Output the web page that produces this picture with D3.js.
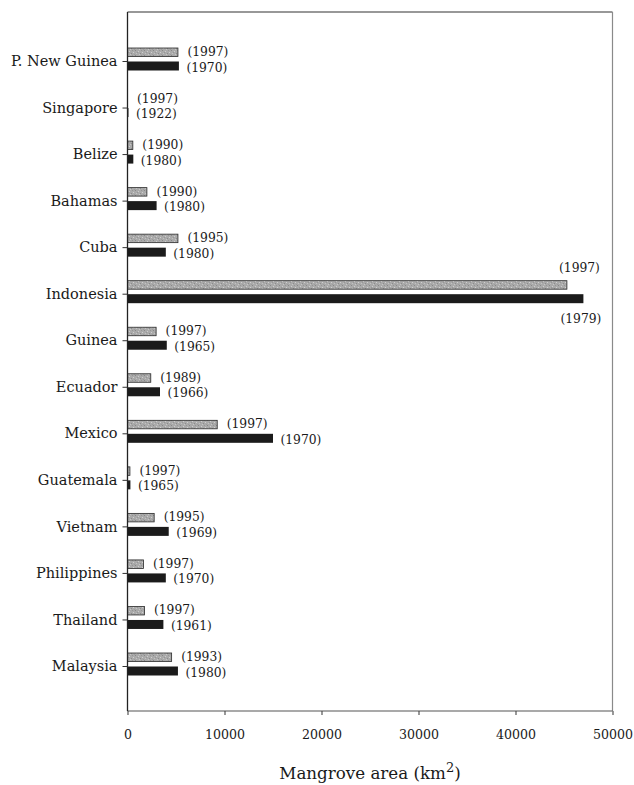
<!DOCTYPE html>
<html>
<head>
<meta charset="utf-8">
<script src="https://cdn.jsdelivr.net/npm/d3@7/dist/d3.min.js"></script>
<style>
  html, body { margin: 0; padding: 0; background: #fff; }
  svg { display: block; font-family: "DejaVu Serif", serif; }
</style>
</head>
<body>
<svg id="chart" width="634" height="785"></svg>
<script>
// Mangrove area by country: most recent estimate vs. an earlier estimate (km²)
const categories = ["P. New Guinea", "Singapore", "Belize", "Bahamas", "Cuba", "Indonesia", "Guinea",
                    "Ecuador", "Mexico", "Guatemala", "Vietnam", "Philippines", "Thailand", "Malaysia"];
const recentArea  = [5200, 6, 550, 2000, 5200, 45300, 2950, 2400, 9250, 250, 2750, 1650, 1750, 4550];
const recentYear  = ["1997", "1997", "1990", "1990", "1995", "1997", "1997", "1989", "1997", "1997", "1995", "1997", "1997", "1993"];
const earlierArea = [5300, 100, 600, 3000, 3950, 47000, 4050, 3350, 15000, 300, 4250, 3950, 3700, 5200];
const earlierYear = ["1970", "1922", "1980", "1980", "1980", "1979", "1965", "1966", "1970", "1965", "1969", "1970", "1961", "1980"];
const xTicks = [0, 10000, 20000, 30000, 40000, 50000];
const xTitle = "Mangrove area (km";

const rows = categories.map((c, i) => ({
  country: c,
  recent: recentArea[i], recentYear: recentYear[i],
  earlier: earlierArea[i], earlierYear: earlierYear[i]
}));

const svg = d3.select("#chart");
const plot = { left: 127.5, right: 612.5, top: 12, bottom: 711 };

const x = d3.scaleLinear().domain([0, 50000]).range([plot.left, plot.right]);
const y = d3.scalePoint().domain(categories).range([61, 666]);

// speckled grey fill for the recent-estimate bars
const defs = svg.append("defs");
const pat = defs.append("pattern").attr("id", "speckle")
  .attr("patternUnits", "userSpaceOnUse").attr("width", 9).attr("height", 5);
pat.append("rect").attr("width", 9).attr("height", 5).attr("fill", "#aaaaaa");
[[0,0,"#888"],[3,1,"#cdcdcd"],[6,0,"#959595"],[1,3,"#c2c2c2"],[5,3,"#8b8b8b"],[7,2,"#d0d0d0"],[2,2,"#979797"],[8,4,"#9c9c9c"],[4,4,"#c6c6c6"]]
  .forEach(([px, py, col]) => pat.append("rect").attr("x", px).attr("y", py)
    .attr("width", 1).attr("height", 1).attr("fill", col));

// bars
const g = svg.append("g");
g.selectAll("rect.recent").data(rows).join("rect")
  .attr("class", "recent")
  .attr("x", x(0))
  .attr("y", d => y(d.country) - 13)
  .attr("width", d => x(d.recent) - x(0))
  .attr("height", 8.5)
  .attr("fill", "url(#speckle)")
  .attr("stroke", d => x(d.recent) - x(0) > 1.5 ? "#2a2a2a" : "none")
  .attr("stroke-width", 0.8);

g.selectAll("rect.earlier").data(rows).join("rect")
  .attr("class", "earlier")
  .attr("x", x(0))
  .attr("y", d => y(d.country) + 0.5)
  .attr("width", d => x(d.earlier) - x(0))
  .attr("height", 9)
  .attr("fill", "#1b1b1b");

// year labels; very long bars carry their labels above / below instead of to the right
const wide = d => d.earlier > 40000;
const labels = svg.append("g").attr("font-size", 12.3).attr("fill", "#1a1a1a");
labels.selectAll("text.ry").data(rows).join("text")
  .attr("class", "ry")
  .attr("text-anchor", d => wide(d) ? "end" : "start")
  .attr("x", d => wide(d) ? x(d.recent) + 33 : x(d.recent) + 9.5)
  .attr("y", d => wide(d) ? y(d.country) - 22 : y(d.country) - 5)
  .text(d => `(${d.recentYear})`);
labels.selectAll("text.ey").data(rows).join("text")
  .attr("class", "ey")
  .attr("text-anchor", d => wide(d) ? "end" : "start")
  .attr("x", d => wide(d) ? x(d.earlier) + 18 : x(d.earlier) + 7.5)
  .attr("y", d => wide(d) ? y(d.country) + 29 : y(d.country) + 10.5)
  .text(d => `(${d.earlierYear})`);

// frame
const frame = svg.append("g").attr("fill", "none");
frame.append("line").attr("x1", plot.left).attr("x2", plot.right).attr("y1", plot.top).attr("y2", plot.top)
  .attr("stroke", "#333").attr("stroke-width", 1.2);
frame.append("line").attr("x1", plot.right).attr("x2", plot.right).attr("y1", plot.top).attr("y2", plot.bottom)
  .attr("stroke", "#8a8a8a").attr("stroke-width", 1.2);
frame.append("line").attr("x1", plot.left).attr("x2", plot.right).attr("y1", plot.bottom).attr("y2", plot.bottom)
  .attr("stroke", "#555").attr("stroke-width", 1.1);
frame.append("line").attr("x1", plot.left).attr("x2", plot.left).attr("y1", plot.top).attr("y2", plot.bottom)
  .attr("stroke", "#222").attr("stroke-width", 1.3);

// x axis
const xAxis = svg.append("g").attr("transform", `translate(0,${plot.bottom})`)
  .call(d3.axisBottom(x).tickValues(xTicks).tickFormat(d3.format("d")).tickSize(4).tickPadding(15).tickSizeOuter(0));
xAxis.select(".domain").remove();
xAxis.selectAll("line").attr("stroke", "#444").attr("stroke-width", 1.1);
xAxis.selectAll("text").attr("font-family", "DejaVu Serif, serif").attr("font-size", 12.6).attr("fill", "#1a1a1a");

// y axis
const yAxis = svg.append("g").attr("transform", `translate(${plot.left},0)`)
  .call(d3.axisLeft(y).tickSize(5).tickPadding(5).tickSizeOuter(0));
yAxis.select(".domain").remove();
yAxis.selectAll("line").attr("stroke", "#333").attr("stroke-width", 1);
yAxis.selectAll("text").attr("font-family", "DejaVu Serif, serif").attr("font-size", 14.5).attr("fill", "#1a1a1a");

// axis title
const title = svg.append("text")
  .attr("x", 370).attr("y", 779)
  .attr("text-anchor", "middle")
  .attr("font-size", 16.7).attr("fill", "#1a1a1a");
title.append("tspan").text(xTitle);
title.append("tspan").attr("font-size", 13).attr("dy", -7).text("2");
title.append("tspan").attr("dy", 7).text(")");
</script>
</body>
</html>
